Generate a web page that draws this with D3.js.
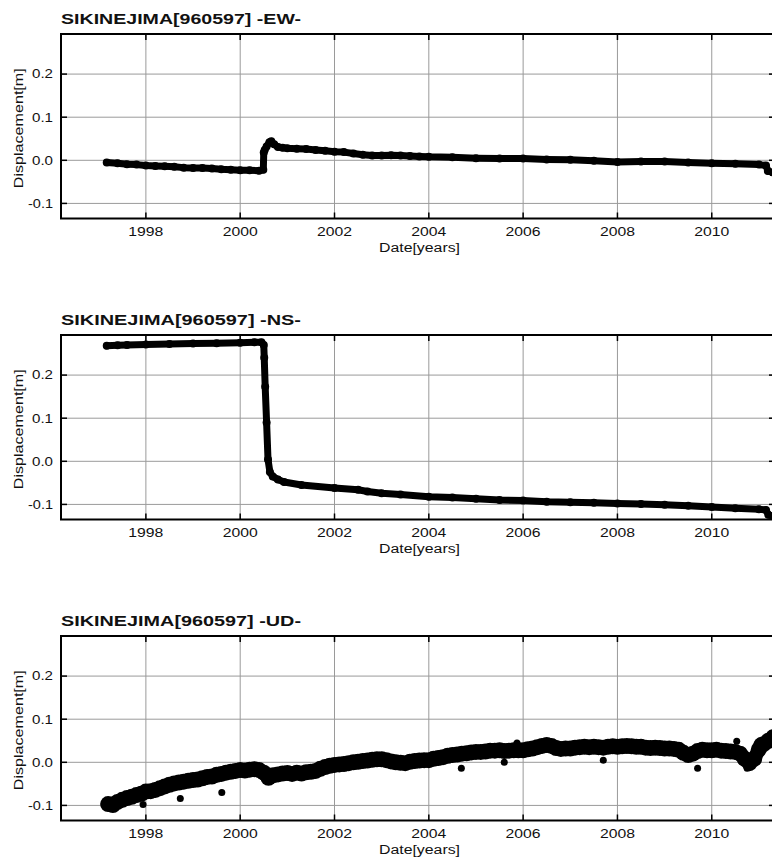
<!DOCTYPE html>
<html>
<head>
<meta charset="utf-8">
<script src="https://cdn.jsdelivr.net/npm/d3@7"></script>
<style>
  body { margin: 0; background: #fff; }
  text { font-family: "Liberation Sans", Arial, Helvetica, sans-serif; fill: #111; }
</style>
</head>
<body>
<svg id="chart" width="772" height="861"></svg>
<script>
// 站名與成分
const station = "SIKINEJIMA[960597]";
const components = ["EW", "NS", "UD"];

// 軸刻度
const xTicks = [1998, 2000, 2002, 2004, 2006, 2008, 2010];
const yTicks = [-0.1, 0.0, 0.1, 0.2];
const yTickLabels = ["-0.1", "0.0", "0.1", "0.2"];

// EW 變位 [年, m]
const ewData = [
  [1997.17, -0.005], [1997.4, -0.007], [1997.6, -0.009], [1997.8, -0.010],
  [1998.0, -0.012], [1998.2, -0.013], [1998.4, -0.014], [1998.6, -0.015],
  [1998.8, -0.017], [1999.0, -0.018], [1999.2, -0.018], [1999.4, -0.019],
  [1999.6, -0.021], [1999.8, -0.022], [2000.0, -0.023], [2000.2, -0.023],
  [2000.4, -0.024], [2000.49, -0.022], [2000.5, 0.018], [2000.52, 0.024],
  [2000.56, 0.032], [2000.62, 0.042], [2000.66, 0.044], [2000.72, 0.037],
  [2000.8, 0.031], [2000.9, 0.029], [2001.0, 0.028], [2001.2, 0.027],
  [2001.4, 0.026], [2001.6, 0.024], [2001.8, 0.022], [2002.0, 0.020],
  [2002.2, 0.019], [2002.4, 0.016], [2002.6, 0.013], [2002.8, 0.011],
  [2003.0, 0.011], [2003.2, 0.012], [2003.4, 0.011], [2003.6, 0.010],
  [2003.8, 0.009], [2004.0, 0.008], [2004.5, 0.007], [2005.0, 0.005],
  [2005.5, 0.004], [2006.0, 0.004], [2006.5, 0.002], [2007.0, 0.001],
  [2007.5, -0.001], [2008.0, -0.004], [2008.5, -0.003], [2009.0, -0.003],
  [2009.5, -0.005], [2010.0, -0.007], [2010.5, -0.008], [2011.0, -0.010],
  [2011.15, -0.012], [2011.19, -0.025], [2011.3, -0.028]
];

// NS 變位 [年, m]
const nsData = [
  [1997.17, 0.268], [1997.4, 0.269], [1997.6, 0.270], [1998.0, 0.271],
  [1998.5, 0.272], [1999.0, 0.273], [1999.5, 0.274], [2000.0, 0.275],
  [2000.3, 0.276], [2000.45, 0.276], [2000.5, 0.270], [2000.51, 0.240],
  [2000.53, 0.173], [2000.56, 0.090], [2000.59, 0.004], [2000.63, -0.025],
  [2000.69, -0.035], [2000.8, -0.042], [2000.93, -0.048], [2001.3, -0.055],
  [2002.0, -0.062], [2002.5, -0.066], [2002.7, -0.070], [2003.0, -0.074],
  [2003.4, -0.077], [2004.0, -0.082], [2004.5, -0.084], [2005.0, -0.087],
  [2005.5, -0.090], [2006.0, -0.091], [2006.5, -0.094], [2007.0, -0.095],
  [2007.5, -0.096], [2008.0, -0.098], [2008.5, -0.099], [2009.0, -0.101],
  [2009.5, -0.103], [2010.0, -0.106], [2010.5, -0.109], [2011.0, -0.111],
  [2011.15, -0.113], [2011.2, -0.124], [2011.3, -0.127]
];

// UD 變位 [年, m]
const udData = [
  [1997.2, -0.097], [1997.3, -0.099], [1997.4, -0.092], [1997.5, -0.087],
  [1997.6, -0.083], [1997.7, -0.080], [1997.8, -0.076], [1997.9, -0.073],
  [1998.0, -0.068], [1998.1, -0.067], [1998.2, -0.064], [1998.3, -0.060],
  [1998.4, -0.056], [1998.5, -0.052], [1998.6, -0.049], [1998.7, -0.047],
  [1998.8, -0.045], [1998.9, -0.043], [1999.0, -0.041], [1999.1, -0.040],
  [1999.2, -0.037], [1999.3, -0.034], [1999.4, -0.033], [1999.5, -0.029],
  [1999.6, -0.027], [1999.7, -0.024], [1999.8, -0.022], [1999.9, -0.020],
  [2000.0, -0.018], [2000.1, -0.019], [2000.2, -0.017], [2000.3, -0.016],
  [2000.4, -0.018], [2000.5, -0.024], [2000.6, -0.036], [2000.7, -0.030],
  [2000.8, -0.028], [2000.9, -0.026], [2001.0, -0.025], [2001.1, -0.027],
  [2001.2, -0.024], [2001.3, -0.026], [2001.4, -0.023], [2001.5, -0.022],
  [2001.6, -0.020], [2001.7, -0.015], [2001.8, -0.011], [2001.9, -0.008],
  [2002.0, -0.006], [2002.1, -0.005], [2002.2, -0.004], [2002.3, -0.002],
  [2002.4, 0.000], [2002.5, 0.001], [2002.6, 0.003], [2002.7, 0.004],
  [2002.8, 0.006], [2002.9, 0.007], [2003.0, 0.007], [2003.1, 0.005],
  [2003.2, 0.002], [2003.3, 0.000], [2003.4, -0.001], [2003.5, -0.002],
  [2003.6, 0.001], [2003.7, 0.003], [2003.8, 0.004], [2003.9, 0.005],
  [2004.0, 0.005], [2004.1, 0.008], [2004.2, 0.010], [2004.3, 0.012],
  [2004.4, 0.015], [2004.5, 0.017], [2004.6, 0.018], [2004.7, 0.020],
  [2004.8, 0.021], [2004.9, 0.023], [2005.0, 0.024], [2005.1, 0.024],
  [2005.2, 0.025], [2005.3, 0.027], [2005.4, 0.027], [2005.5, 0.028],
  [2005.6, 0.026], [2005.7, 0.027], [2005.8, 0.028], [2005.9, 0.028],
  [2006.0, 0.028], [2006.1, 0.030], [2006.2, 0.032], [2006.3, 0.035],
  [2006.4, 0.038], [2006.5, 0.040], [2006.6, 0.038], [2006.7, 0.033],
  [2006.8, 0.031], [2006.9, 0.032], [2007.0, 0.032], [2007.1, 0.034],
  [2007.2, 0.035], [2007.3, 0.036], [2007.4, 0.035], [2007.5, 0.036],
  [2007.6, 0.035], [2007.7, 0.034], [2007.8, 0.036], [2007.9, 0.037],
  [2008.0, 0.036], [2008.1, 0.037], [2008.2, 0.038], [2008.3, 0.037],
  [2008.4, 0.036], [2008.5, 0.036], [2008.6, 0.034], [2008.7, 0.033],
  [2008.8, 0.034], [2008.9, 0.033], [2009.0, 0.032], [2009.1, 0.032],
  [2009.2, 0.031], [2009.3, 0.029], [2009.4, 0.022], [2009.5, 0.017],
  [2009.6, 0.020], [2009.7, 0.026], [2009.8, 0.029], [2009.9, 0.028],
  [2010.0, 0.028], [2010.1, 0.029], [2010.2, 0.027], [2010.3, 0.026],
  [2010.4, 0.025], [2010.5, 0.024], [2010.6, 0.020], [2010.7, 0.008],
  [2010.8, -0.002], [2010.9, 0.008], [2011.0, 0.030], [2011.05, 0.040],
  [2011.1, 0.042], [2011.2, 0.050], [2011.3, 0.058]
];

// UD 離群點
const udOutliers = [
  [1997.94, -0.098], [1998.73, -0.084], [1999.61, -0.070], [2004.69, -0.014],
  [2005.6, 0.000], [2005.87, 0.045], [2007.7, 0.005], [2009.7, -0.014],
  [2010.53, 0.049], [2010.75, -0.014]
];

const series = [ewData, nsData, udData];
const bandWidth = [7, 7, 14];
const dotRadius = [4, 4, 8];

const svg = d3.select("#chart");

// 版面
const left = 61, right = 774, panelTop = 34, panelH = 184.5, panelStep = 301;

const x = d3.scaleLinear().domain([1996.2, 2011.32]).range([left, right]);

svg.append("defs").selectAll("clipPath")
  .data(components)
  .join("clipPath")
  .attr("id", (d, i) => "clip" + i)
  .append("rect")
  .attr("x", left)
  .attr("y", (d, i) => panelTop + i * panelStep)
  .attr("width", right - left)
  .attr("height", panelH);

components.forEach((comp, i) => {
  const top = panelTop + i * panelStep;
  const bottom = top + panelH;
  const y = d3.scaleLinear().domain([-0.135, 0.293]).range([bottom, top]);
  const g = svg.append("g");

  // 標題
  g.append("text")
    .attr("x", left)
    .attr("y", top - 10)
    .attr("font-size", 15)
    .attr("font-weight", "bold")
    .attr("textLength", 240)
    .attr("lengthAdjust", "spacingAndGlyphs")
    .text(`${station} -${comp}-`);

  // 格線
  g.append("g").selectAll("line")
    .data(xTicks)
    .join("line")
    .attr("x1", (d) => x(d)).attr("x2", (d) => x(d))
    .attr("y1", top).attr("y2", bottom)
    .attr("stroke", "#9a9a9a").attr("stroke-width", 1);
  g.append("g").selectAll("line")
    .data(yTicks)
    .join("line")
    .attr("x1", left).attr("x2", right)
    .attr("y1", (d) => y(d)).attr("y2", (d) => y(d))
    .attr("stroke", "#9a9a9a").attr("stroke-width", 1);

  // 資料
  const line = d3.line().x((d) => x(d[0])).y((d) => y(d[1]));
  const dataG = g.append("g").attr("clip-path", `url(#clip${i})`);
  dataG.append("path")
    .datum(series[i])
    .attr("d", line)
    .attr("fill", "none")
    .attr("stroke", "#000")
    .attr("stroke-width", bandWidth[i])
    .attr("stroke-linejoin", "round")
    .attr("stroke-linecap", "round");
  dataG.append("g").selectAll("circle")
    .data(series[i])
    .join("circle")
    .attr("cx", (d) => x(d[0]))
    .attr("cy", (d) => y(d[1]))
    .attr("r", dotRadius[i])
    .attr("fill", "#000");
  if (comp === "UD") {
    dataG.append("g").selectAll("circle")
      .data(udOutliers)
      .join("circle")
      .attr("cx", (d) => x(d[0]))
      .attr("cy", (d) => y(d[1]))
      .attr("r", 3.5)
      .attr("fill", "#000");
  }

  // 刻度
  const tk = g.append("g").attr("stroke", "#000").attr("stroke-width", 1.5);
  xTicks.forEach((t) => {
    tk.append("line").attr("x1", x(t)).attr("x2", x(t)).attr("y1", bottom).attr("y2", bottom - 6);
    tk.append("line").attr("x1", x(t)).attr("x2", x(t)).attr("y1", top).attr("y2", top + 6);
  });
  yTicks.forEach((t) => {
    tk.append("line").attr("x1", left).attr("x2", left + 6).attr("y1", y(t)).attr("y2", y(t));
    tk.append("line").attr("x1", right).attr("x2", right - 5).attr("y1", y(t)).attr("y2", y(t));
  });

  // 邊框
  g.append("path")
    .attr("d", `M${right},${top}H${left}V${bottom}H${right}`)
    .attr("fill", "none")
    .attr("stroke", "#000")
    .attr("stroke-width", 2);

  // 刻度標籤
  g.append("g").selectAll("text")
    .data(xTicks)
    .join("text")
    .attr("x", (d) => x(d))
    .attr("y", bottom + 17.5)
    .attr("text-anchor", "middle")
    .attr("font-size", 12)
    .attr("textLength", 35)
    .attr("lengthAdjust", "spacingAndGlyphs")
    .text((d) => d);
  g.append("g").selectAll("text")
    .data(yTicks)
    .join("text")
    .attr("x", left - 8)
    .attr("y", (d) => y(d))
    .attr("dy", "0.36em")
    .attr("text-anchor", "end")
    .attr("font-size", 12)
    .attr("textLength", (d, j) => (yTickLabels[j].length === 4 ? 25 : 21))
    .attr("lengthAdjust", "spacingAndGlyphs")
    .text((d, j) => yTickLabels[j]);

  // 軸標題
  g.append("text")
    .attr("x", (left + right) / 2 + 2)
    .attr("y", bottom + 33)
    .attr("text-anchor", "middle")
    .attr("font-size", 12)
    .attr("textLength", 81)
    .attr("lengthAdjust", "spacingAndGlyphs")
    .text("Date[years]");
  g.append("text")
    .attr("transform", `translate(23,${top + panelH / 2 + 2}) rotate(-90)`)
    .attr("text-anchor", "middle")
    .attr("font-size", 12)
    .attr("textLength", 120)
    .attr("lengthAdjust", "spacingAndGlyphs")
    .text("Displacement[m]");
});
</script>
</body>
</html>
